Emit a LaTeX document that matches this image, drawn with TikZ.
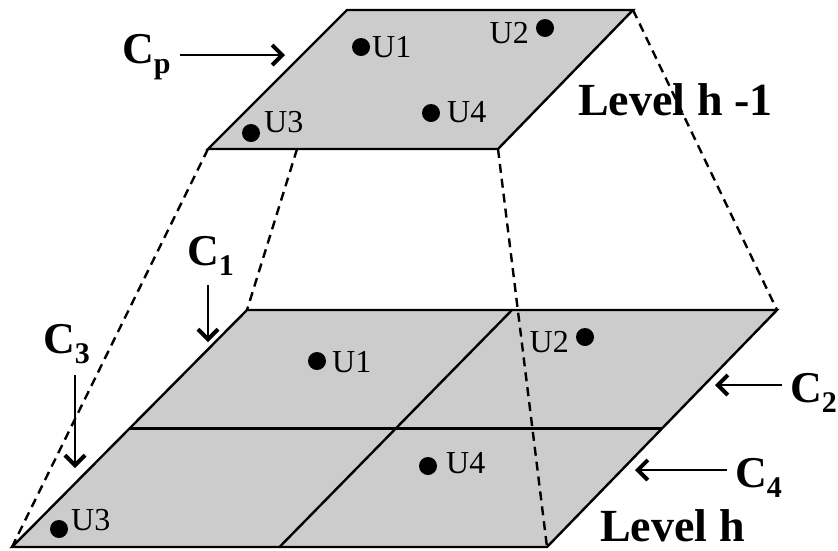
\documentclass[tikz,border=0pt]{standalone}
\usepackage{fontspec}
\setmainfont{Liberation Serif}
\usetikzlibrary{arrows.meta,calc}
\begin{document}
\begin{tikzpicture}[x=1pt,y=-1pt,
  plane/.style={fill=black!20, draw=black, line width=2.4pt, line join=miter},
  gridline/.style={draw=black, line width=2.4pt},
  proj/.style={draw=black, line width=2.4pt, dash pattern=on 9pt off 6pt},
  pt/.style={circle, fill=black, inner sep=0pt, minimum size=18pt},
  ulabel/.style={font=\fontsize{32}{32}\selectfont, inner sep=0pt},
  clabel/.style={font=\fontsize{44}{44}\selectfont\bfseries, inner sep=0pt, anchor=base west},
  lvl/.style={font=\fontsize{46}{46}\selectfont\bfseries, inner sep=0pt, anchor=base west},
  pointer/.style={-{Straight Barb[length=10pt,width=20pt,line width=4pt]}, line width=2.2pt}
]
\newcommand{\subs}[1]{\raisebox{-10pt}{\fontsize{30}{30}\selectfont #1}}
\useasboundingbox (0,0) rectangle (838,550);
% corners
\coordinate (a1) at (347,10);
\coordinate (a2) at (633,10);
\coordinate (a3) at (498,149);
\coordinate (a4) at (208,149);
\coordinate (b1) at (247,310);
\coordinate (b2) at (777,310);
\coordinate (b3) at (547,547);
\coordinate (b4) at (12,547);
\coordinate (ml) at ($(b4)!0.5!(b1)$);
\coordinate (mr) at ($(b3)!0.5!(b2)$);
\coordinate (mt) at ($(b1)!0.5!(b2)$);
\coordinate (mb) at ($(b4)!0.5!(b3)$);
\coordinate (ap) at ($(a4)!0.307!(a3)$);
% bottom plane
\draw[plane] (b1) -- (b2) -- (b3) -- (b4) -- cycle;
\draw[gridline] (ml) -- (mr);
\draw[gridline] (mt) -- (mb);
% projection lines
\draw[proj] (a4) -- (b4);
\draw[proj] (ap) -- (b1);
\draw[proj] (a3) -- (b3);
\draw[proj] (a2) -- (b2);
% top plane
\draw[plane] (a1) -- (a2) -- (a3) -- (a4) -- cycle;
% top dots
\node[pt] (tu1) at (361,47) {};
\node[ulabel, anchor=base west] (tu1l) at (372,57) {U1};
\node[pt] (tu2) at (545,28) {};
\node[ulabel, anchor=base east] (tu2l) at (529,43) {U2};
\node[pt] (tu3) at (251,133) {};
\node[ulabel, anchor=base west] (tu3l) at (264,132) {U3};
\node[pt] (tu4) at (431,113) {};
\node[ulabel, anchor=base west] (tu4l) at (447,122) {U4};
% bottom dots
\node[pt] (bu1) at (317,361) {};
\node[ulabel, anchor=base west] (bu1l) at (332,372) {U1};
\node[pt] (bu2) at (585,337) {};
\node[ulabel, anchor=base east] (bu2l) at (569,352) {U2};
\node[pt] (bu3) at (59,529) {};
\node[ulabel, anchor=base west] (bu3l) at (71,530) {U3};
\node[pt] (bu4) at (428,466) {};
\node[ulabel, anchor=base west] (bu4l) at (446,473) {U4};
% C labels
\node[clabel] (cp) at (122,63) {C\subs{p}};
\node[clabel] (c1) at (187,265) {C\subs{1}};
\node[clabel] (c3) at (43,353) {C\subs{3}};
\node[clabel] (c2) at (790,402) {C\subs{2}};
\node[clabel] (c4) at (735,487) {C\subs{4}};
% arrows
\coordinate (cps) at (180,55); \coordinate (cpe) at (285,55);
\coordinate (c1s) at (208,285); \coordinate (c1e) at (208,342);
\coordinate (c3s) at (75,375); \coordinate (c3e) at (75,468);
\coordinate (c2s) at (782,385); \coordinate (c2e) at (715,385);
\coordinate (c4s) at (727,470); \coordinate (c4e) at (635,470);
\draw[pointer] (cps) -- (cpe);
\draw[pointer] (c1s) -- (c1e);
\draw[pointer] (c3s) -- (c3e);
\draw[pointer] (c2s) -- (c2e);
\draw[pointer] (c4s) -- (c4e);
% level labels
\node[lvl] (lv1) at (578,115) {Level h -1};
\node[lvl] (lv0) at (600,541) {Level h};
\end{tikzpicture}
\end{document}
